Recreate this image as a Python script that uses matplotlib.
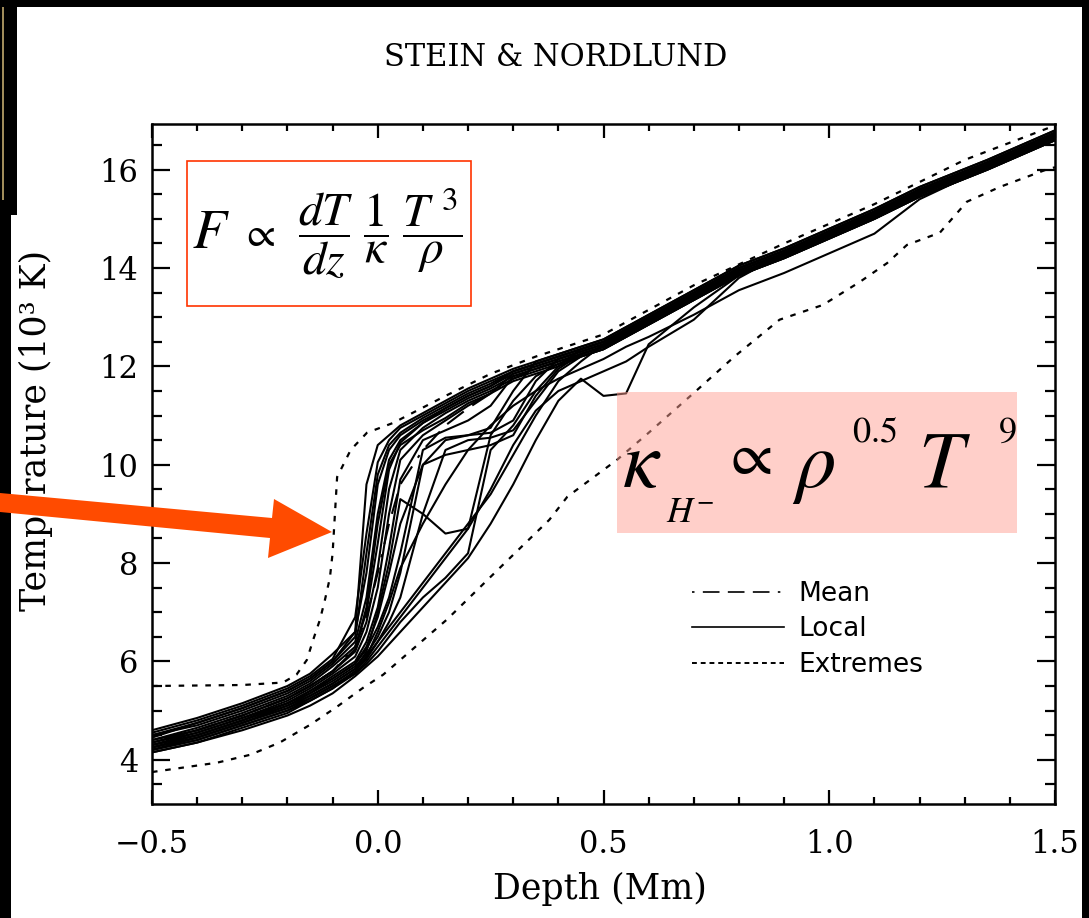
import matplotlib
matplotlib.use("Agg")
from matplotlib import pyplot as plt
from matplotlib.patches import Rectangle, Polygon
from matplotlib.lines import Line2D
from matplotlib.ticker import MultipleLocator

W, H = 1089, 918

# depth grid (Mm) shared by the local profiles and the mean
depth = [-0.5, -0.4, -0.3, -0.2, -0.15, -0.1, -0.05, -0.025, 0.0, 0.025, 0.05, 0.1, 0.15,
         0.2, 0.25, 0.3, 0.35, 0.4, 0.45, 0.5, 0.55, 0.6, 0.7, 0.8, 0.9, 1.0, 1.1, 1.2, 1.35, 1.5]

# local temperature profiles (10^3 K)
local_01 = [4.60, 4.85, 5.15, 5.50, 5.75, 6.15, 6.60, 9.60, 10.40, 10.60, 10.80, 11.05, 11.30, 11.55, 11.75,
            11.95, 12.10, 12.25, 12.40, 12.55, 12.80, 13.05, 13.55, 14.05, 14.40, 14.80, 15.20, 15.65, 16.20, 16.80]
local_02 = [4.55, 4.80, 5.10, 5.45, 5.70, 6.05, 6.90, 8.60, 10.05, 10.50, 10.75, 11.00, 11.25, 11.50, 11.70,
            11.90, 12.05, 12.20, 12.35, 12.50, 12.75, 13.00, 13.50, 14.00, 14.35, 14.75, 15.15, 15.60, 16.15, 16.75]
local_03 = [4.45, 4.75, 5.05, 5.40, 5.65, 6.00, 6.60, 7.80, 9.60, 10.30, 10.60, 10.90, 11.15, 11.40, 11.60,
            11.85, 12.00, 12.15, 12.30, 12.45, 12.70, 12.95, 13.45, 13.95, 14.30, 14.70, 15.10, 15.55, 16.10, 16.70]
local_04 = [4.50, 4.70, 5.00, 5.35, 5.60, 5.95, 6.40, 7.30, 9.00, 10.10, 10.50, 10.85, 11.10, 11.35, 11.55,
            11.80, 11.95, 12.10, 12.25, 12.40, 12.65, 12.90, 13.40, 13.90, 14.25, 14.65, 15.05, 15.50, 16.05, 16.65]
local_05 = [4.40, 4.65, 4.95, 5.30, 5.55, 5.90, 6.30, 7.00, 8.40, 9.90, 10.45, 10.85, 11.15, 11.40, 11.60,
            11.90, 12.05, 12.20, 12.35, 12.50, 12.75, 13.00, 13.50, 14.00, 14.35, 14.75, 15.15, 15.60, 16.15, 16.75]
local_06 = [4.35, 4.60, 4.90, 5.25, 5.50, 5.80, 6.20, 6.80, 7.90, 9.50, 10.30, 10.75, 11.05, 11.30, 11.50,
            11.75, 11.90, 12.05, 12.20, 12.35, 12.60, 12.85, 13.35, 13.85, 14.20, 14.60, 15.00, 15.45, 16.00, 16.60]
local_07 = [4.30, 4.55, 4.85, 5.20, 5.45, 5.75, 6.10, 6.60, 7.50, 9.00, 10.10, 10.60, 10.90, 11.20, 11.45,
            11.85, 12.00, 12.15, 12.30, 12.45, 12.70, 12.95, 13.45, 13.95, 14.30, 14.70, 15.10, 15.55, 16.10, 16.70]
local_08 = [4.25, 4.50, 4.80, 5.15, 5.40, 5.70, 6.00, 6.40, 7.10, 8.30, 9.70, 10.50, 10.70, 10.90, 11.20,
            11.80, 11.95, 12.10, 12.25, 12.40, 12.65, 12.90, 13.40, 13.90, 14.25, 14.65, 15.05, 15.50, 16.05, 16.65]
local_09 = [4.35, 4.55, 4.85, 5.15, 5.40, 5.65, 5.95, 6.25, 6.70, 7.30, 8.20, 10.30, 10.55, 10.60, 10.75,
            11.50, 12.10, 12.25, 12.40, 12.55, 12.80, 13.05, 13.55, 14.05, 14.40, 14.80, 15.20, 15.65, 16.20, 16.80]
local_10 = [4.20, 4.45, 4.75, 5.10, 5.35, 5.60, 5.90, 6.15, 6.50, 7.00, 7.80, 10.00, 10.50, 10.60, 10.65,
            10.90, 11.70, 12.15, 12.30, 12.45, 12.70, 12.95, 13.45, 13.95, 14.30, 14.70, 15.10, 15.55, 16.10, 16.70]
local_11 = [4.30, 4.50, 4.80, 5.10, 5.30, 5.55, 5.85, 6.10, 6.40, 6.80, 7.30, 9.00, 10.30, 10.50, 10.55,
            10.70, 11.30, 11.90, 12.20, 12.35, 12.60, 12.85, 13.35, 13.85, 14.20, 14.60, 15.00, 15.45, 16.00, 16.60]
local_12 = [4.20, 4.40, 4.70, 5.00, 5.25, 5.50, 5.75, 5.95, 6.20, 6.50, 6.80, 7.30, 7.70, 8.20, 10.30,
            10.80, 11.50, 12.00, 12.35, 12.50, 12.75, 13.00, 13.50, 14.00, 14.35, 14.75, 15.15, 15.60, 16.15, 16.75]
local_13 = [4.25, 4.45, 4.75, 5.05, 5.30, 5.55, 5.85, 6.20, 7.00, 8.00, 9.30, 9.00, 8.60, 8.70, 10.60,
            11.30, 11.80, 12.05, 12.25, 12.40, 12.65, 12.90, 13.40, 13.90, 14.25, 14.65, 15.05, 15.50, 16.05, 16.65]
local_14 = [4.15, 4.35, 4.65, 4.95, 5.20, 5.45, 5.80, 6.05, 6.40, 6.70, 7.00, 7.60, 8.20, 8.80, 9.40,
            10.20, 11.00, 11.70, 12.10, 12.45, 12.70, 12.95, 13.45, 13.95, 14.30, 14.70, 15.10, 15.55, 16.10, 16.70]
local_15 = [4.15, 4.35, 4.60, 4.90, 5.10, 5.35, 5.70, 5.90, 6.10, 6.35, 6.60, 7.10, 7.60, 8.10, 8.80,
            9.60, 10.50, 11.30, 11.75, 11.40, 11.45, 12.45, 13.20, 13.85, 14.25, 14.65, 15.05, 15.50, 16.05, 16.65]
local_16 = [4.20, 4.40, 4.70, 5.00, 5.20, 5.45, 5.75, 6.00, 6.30, 6.60, 6.90, 7.50, 8.10, 8.70, 9.50,
            10.40, 11.10, 11.50, 11.70, 11.90, 12.10, 12.40, 12.95, 13.80, 14.30, 14.70, 15.10, 15.55, 16.10, 16.70]
local_17 = [4.25, 4.45, 4.75, 5.05, 5.25, 5.50, 5.80, 6.10, 6.60, 7.20, 7.90, 8.80, 9.60, 10.30, 10.80,
            11.20, 11.50, 11.75, 11.95, 12.15, 12.40, 12.60, 13.05, 13.55, 13.90, 14.30, 14.70, 15.40, 16.05, 16.65]
local_18 = [4.50, 4.75, 5.05, 5.40, 5.65, 6.00, 6.50, 8.20, 9.80, 10.40, 10.65, 10.95, 11.20, 11.45, 11.65,
            11.90, 12.05, 12.20, 12.35, 12.50, 12.75, 13.00, 13.50, 14.00, 14.35, 14.75, 15.15, 15.60, 16.15, 16.75]
local_19 = [4.40, 4.60, 4.90, 5.25, 5.50, 5.80, 6.25, 7.10, 8.80, 10.00, 10.40, 10.70, 10.95, 11.25, 11.45,
            11.70, 11.85, 12.00, 12.20, 12.35, 12.60, 12.85, 13.35, 13.85, 14.20, 14.60, 15.00, 15.45, 16.00, 16.60]
local_20 = [4.30, 4.50, 4.80, 5.15, 5.35, 5.65, 5.95, 6.30, 6.90, 7.80, 8.80, 10.00, 10.20, 10.30, 10.40,
            10.60, 11.40, 11.95, 12.25, 12.40, 12.65, 12.90, 13.40, 13.90, 14.25, 14.65, 15.05, 15.50, 16.05, 16.65]

mean_T = [4.35, 4.60, 4.90, 5.25, 5.50, 5.80, 6.30, 6.90, 7.80, 8.80, 9.60, 10.30, 10.80, 11.15, 11.45,
          11.75, 11.95, 12.10, 12.25, 12.40, 12.65, 12.90, 13.40, 13.90, 14.25, 14.65, 15.05, 15.50, 16.05, 16.65]

# extreme (hottest / coolest) profiles
ext_hi_depth = [-0.5, -0.3, -0.21, -0.18, -0.157, -0.143, -0.128, -0.117, -0.106, -0.1, -0.09, -0.06,
                -0.024, 0.034, 0.15, 0.25, 0.35, 0.5, 0.7, 0.9, 1.1, 1.3, 1.5]
ext_hi_T = [5.5, 5.52, 5.57, 5.73, 6.03, 6.44, 6.85, 7.25, 7.7, 8.2, 9.75, 10.3,
            10.65, 10.85, 11.4, 11.85, 12.2, 12.65, 13.65, 14.5, 15.3, 16.2, 16.9]
ext_lo_depth = [-0.5, -0.356, -0.283, -0.217, -0.15, -0.09, -0.033, 0.012, 0.153, 0.27, 0.38, 0.42, 0.53,
                0.60, 0.70, 0.79, 0.89, 0.986, 1.068, 1.128, 1.172, 1.245, 1.305, 1.378, 1.48, 1.5]
ext_lo_T = [3.75, 3.94, 4.10, 4.35, 4.71, 5.08, 5.46, 5.73, 6.85, 7.9, 8.88, 9.35, 10.1,
            10.65, 11.46, 12.2, 12.95, 13.25, 13.72, 14.1, 14.47, 14.72, 15.35, 15.65, 16.0, 16.05]

local_curves = [local_01, local_02, local_03, local_04, local_05, local_06, local_07, local_08, local_09,
                local_10, local_11, local_12, local_13, local_14, local_15, local_16, local_17, local_18,
                local_19, local_20]


def fx(px):  # pixel column -> figure fraction
    return px / W


def fy(py):  # pixel row (from top) -> figure fraction
    return 1 - py / H


plt.rcParams['font.family'] = 'DejaVu Serif'

fig = plt.figure(figsize=(W / 100, H / 100), dpi=100)
fig.patch.set_facecolor('white')
ax = fig.add_axes([fx(152), fy(804), (1055 - 152) / W, (804 - 124) / H])

mean_dash = (1.5, 5, 10, 5, 10, 5, 10, 5)
for t in local_curves:
    ax.plot(depth, t, color='black', lw=1.5)
ax.plot(depth, mean_T, color='black', lw=1.5, dashes=mean_dash)
ax.plot(ext_hi_depth, ext_hi_T, color='black', lw=1.6, dashes=(2.5, 3.5))
ax.plot(ext_lo_depth, ext_lo_T, color='black', lw=1.6, dashes=(2.5, 3.5))

ax.set_xlim(-0.5, 1.5)
ax.set_ylim(3.1, 16.93)
ax.xaxis.set_major_locator(MultipleLocator(0.5))
ax.xaxis.set_minor_locator(MultipleLocator(0.1))
ax.yaxis.set_major_locator(MultipleLocator(2))
ax.yaxis.set_minor_locator(MultipleLocator(0.5))
ax.xaxis.set_major_formatter('{x:.1f}')
ax.tick_params(which='both', direction='in', top=True, right=True, width=1.6, color='black')
ax.tick_params(axis='x', which='major', length=10, pad=18, labelsize=22)
ax.tick_params(axis='x', which='minor', length=5)
ax.tick_params(axis='y', which='major', length=13, pad=10, labelsize=22)
ax.tick_params(axis='y', which='minor', length=7)
for s in ax.spines.values():
    s.set_linewidth(1.8)

ax.set_xlabel('Depth (Mm)', fontsize=25)
ax.xaxis.set_label_coords(0.496, -0.10)
ax.set_ylabel('Temperature (10³ K)', fontsize=25)
ax.yaxis.set_label_coords(-0.11, 0.55)

handles = [Line2D([], [], color='black', lw=1.2, dashes=mean_dash),
           Line2D([], [], color='black', lw=1.2),
           Line2D([], [], color='black', lw=1.4, dashes=(2.5, 2.0))]
ax.legend(handles, ['Mean', 'Local', 'Extremes'], loc='upper left', bbox_to_anchor=(0.598, 0.328),
          frameon=False, borderpad=0, borderaxespad=0, handlelength=3.5, handletextpad=0.55,
          labelspacing=0.36, prop={'family': 'DejaVu Sans', 'size': 19})

fig.text(fx(556), fy(58), 'STEIN & NORDLUND', ha='center', va='center', fontsize=22)

# red box with the flux relation
fig.patches.append(Rectangle((fx(187), fy(306)), (471 - 187) / W, (306 - 161) / H,
                             transform=fig.transFigure, facecolor='white', edgecolor='#ff3300',
                             lw=1.2, zorder=3))
fig.text(fx(192), fy(248), r'$F$', ha='left', va='baseline', fontsize=40, math_fontfamily='stix', zorder=4)
fig.text(fx(240), fy(246), r'$\propto$', ha='left', va='baseline', fontsize=30, math_fontfamily='stix',
         zorder=4)
fig.text(fx(380), fy(233), r'$\dfrac{dT}{dz}\;\dfrac{1}{\kappa}\;\dfrac{T^{\ 3}}{\rho}$',
         ha='center', va='center', fontsize=34, math_fontfamily='stix', zorder=4)

# pink box with the H- opacity relation
fig.patches.append(Rectangle((fx(617), fy(533)), (1017 - 617) / W, (533 - 392) / H,
                             transform=fig.transFigure, facecolor=(1.0, 0.63, 0.58), alpha=0.5,
                             edgecolor='none', zorder=3))
big = dict(va='baseline', ha='left', fontsize=58, math_fontfamily='stix', zorder=4)
small = dict(va='baseline', ha='left', fontsize=26, math_fontfamily='stix', zorder=4)
fig.text(fx(622), fy(487), r'$\kappa$', **big)
fig.text(fx(666), fy(522), r'$H^{-}$', **small)
fig.text(fx(722), fy(474), r'$\propto$', va='baseline', ha='left', fontsize=44,
         math_fontfamily='stix', zorder=4)
fig.text(fx(792), fy(487), r'$\rho$', **big)
fig.text(fx(852), fy(442), r'$0.5$', **small)
fig.text(fx(918), fy(487), r'$T$', **big)
fig.text(fx(998), fy(442), r'$9$', **small)

# black slide frame
for x0, y0, x1, y1 in [(0, 0, W, 7), (0, 0, 17, 215), (0, 215, 11, H), (1082, 0, W, H)]:
    fig.patches.append(Rectangle((fx(x0), fy(y1)), (x1 - x0) / W, (y1 - y0) / H,
                                 transform=fig.transFigure, facecolor='black', edgecolor='none',
                                 zorder=8))
fig.patches.append(Rectangle((fx(2), fy(200)), 2 / W, 193 / H, transform=fig.transFigure,
                             facecolor='#a08c5a', edgecolor='none', zorder=9))

# orange pointer arrow
arrow_px = [(0, 493), (272, 518), (274, 499), (332, 532), (268, 558), (270, 538), (0, 512)]
fig.patches.append(Polygon([(fx(x), fy(y)) for x, y in arrow_px], closed=True,
                           transform=fig.transFigure, facecolor='#ff4b00', edgecolor='none',
                           zorder=10))

fig.savefig('out.png', dpi=100)
